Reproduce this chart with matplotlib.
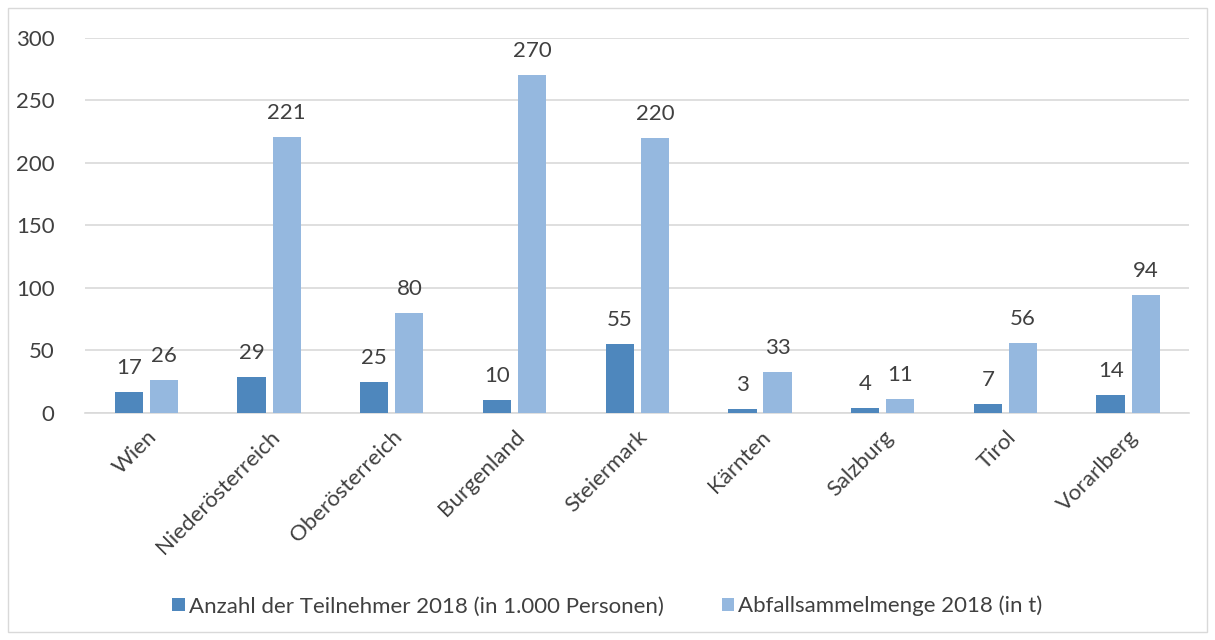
import numpy as np
import matplotlib.pyplot as plt
from matplotlib.patches import Rectangle

laender = ['Wien', 'Niederösterreich', 'Oberösterreich', 'Burgenland', 'Steiermark',
           'Kärnten', 'Salzburg', 'Tirol', 'Vorarlberg']
teilnehmer = [17, 29, 25, 10, 55, 3, 4, 7, 14]
abfall = [26, 221, 80, 270, 220, 33, 11, 56, 94]
yticks = [0, 50, 100, 150, 200, 250, 300]

dark = '#4E87BD'
light = '#95B8DF'
txt = '#404040'
fs = 16

plt.rcParams['font.family'] = ['Lato', 'DejaVu Sans']

fig = plt.figure(figsize=(12.15, 6.4), dpi=100)
ax = fig.add_axes([0.07, 0.355, 0.909, 0.586])

x = np.arange(len(laender))
w = 0.23
off = 0.143
b1 = ax.bar(x - off, teilnehmer, w, color=dark, label='Anzahl der Teilnehmer 2018 (in 1.000 Personen)', zorder=3)
b2 = ax.bar(x + off, abfall, w, color=light, label='Abfallsammelmenge 2018 (in t)', zorder=3)
ax.bar_label(b1, padding=10, fontsize=fs, color=txt)
ax.bar_label(b2, padding=10, fontsize=fs, color=txt)

ax.set_xlim(-0.5, len(laender) - 0.5)
ax.set_ylim(0, 300)
ax.set_yticks(yticks)
ax.yaxis.grid(True, color='#D9D9D9', linewidth=1.2, zorder=0)
ax.set_xticks(x)
ax.set_xticklabels(laender, rotation=45, ha='right', rotation_mode='anchor')
ax.tick_params(axis='both', length=0, labelsize=fs, labelcolor=txt)
ax.tick_params(axis='x', pad=10)
ax.tick_params(axis='y', pad=22)
for s in ['top', 'right', 'left']:
    ax.spines[s].set_visible(False)
ax.spines['bottom'].set_color('#D9D9D9')
ax.spines['bottom'].set_linewidth(1.2)

fig.legend(loc='center', bbox_to_anchor=(0.5, 0.053), ncol=2, frameon=False,
           fontsize=fs, labelcolor=txt, handlelength=0.55, handleheight=0.55,
           handletextpad=0.2, columnspacing=2.6)

fig.patches.append(Rectangle((8 / 1215, 8 / 640), 1199 / 1215, 624 / 640, transform=fig.transFigure,
                             fill=False, edgecolor='#D9D9D9', linewidth=1))

fig.savefig('out.png', dpi=100)
